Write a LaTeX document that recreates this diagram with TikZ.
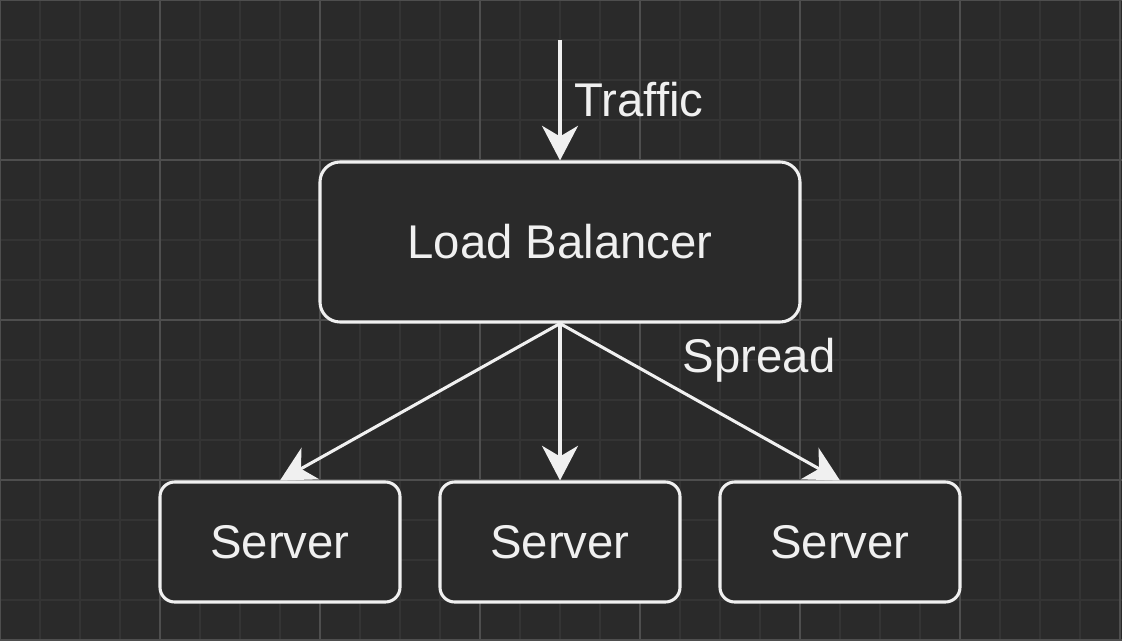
\documentclass[tikz,border=0pt]{standalone}
\usepackage{fontspec}
\setmainfont{Liberation Sans}
\usetikzlibrary{arrows.meta}
\definecolor{canvas}{HTML}{2A2A2A}
\definecolor{gridminor}{HTML}{343434}
\definecolor{gridmajor}{HTML}{4E4E4E}
\definecolor{ink}{HTML}{F0F0F0}

\begin{document}
\begin{tikzpicture}[x=0.75pt, y=-0.75pt,
    every node/.style = {text=ink, font=\fontsize{35.5}{40}\selectfont},
    box/.style = {shape=rectangle, draw=ink, fill=canvas, line width=2.3pt},
    flow/.style = {draw=ink, line width=2.3pt,
      -{Stealth[length=26pt, width=27pt, inset=8pt]}}]
  \useasboundingbox[fill=canvas] (0,0) rectangle (1122,640);
  % background grid
  \draw[gridminor, line width=0.8pt] (0,0) grid[step=30pt] (1122,640);
  \draw[gridmajor, line width=1pt] (0,0) grid[step=120pt] (1122,640);

  \node[box, rounded corners=15pt, minimum width=360pt, minimum height=120pt]
    (lb) at (560,242) {Load Balancer};
  \node[box, rounded corners=11pt, minimum width=180pt, minimum height=90pt]
    (srvA) at (280,542) {Server};
  \node[box, rounded corners=11pt, minimum width=180pt, minimum height=90pt]
    (srvB) at (560,542) {Server};
  \node[box, rounded corners=11pt, minimum width=180pt, minimum height=90pt]
    (srvC) at (840,542) {Server};

  \coordinate (incoming) at (560,40);
  \draw[flow] (incoming) -- (lb.north);
  \node[anchor=west] (traffic) at (570,100) {Traffic};

  \draw[flow] (lb.south) -- (srvA.north);
  \draw[flow] (lb.south) -- (srvB.north);
  \draw[flow] (lb.south) -- (srvC.north);
  \node[anchor=west] (spread) at (678,360) {Spread};
\end{tikzpicture}
\end{document}
